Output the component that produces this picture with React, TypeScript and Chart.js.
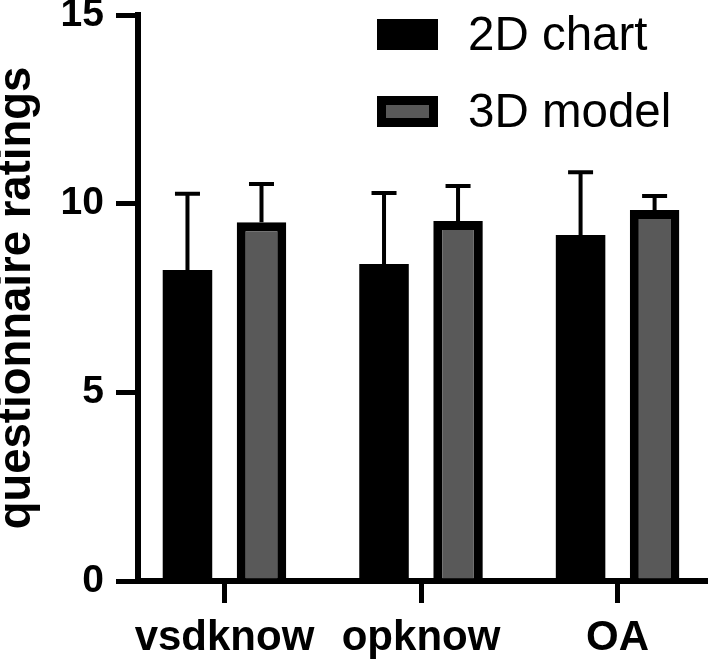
import React, { useEffect, useRef } from 'react';
import { Chart, registerables } from 'chart.js';

Chart.register(...registerables);

const categories = ['vsdknow', 'opknow', 'OA'];
const seriesLabels = ['2D chart', '3D model'];
const means2D = [8.24, 8.4, 9.17];
const sd2D = [2.02, 1.88, 1.66];
const means3D = [9.51, 9.54, 9.83];
const sd3D = [1.01, 0.93, 0.37];
const yTicks = [0, 5, 10, 15];

const FONT = '"Liberation Sans", Arial, Helvetica, sans-serif';

const errorBarPlugin = {
  id: 'errorBars',
  afterDatasetsDraw(chart: any) {
    const { ctx } = chart;
    const yScale = chart.scales.y;
    chart.data.datasets.forEach((ds: any, di: number) => {
      const meta = chart.getDatasetMeta(di);
      meta.data.forEach((bar: any, i: number) => {
        const v = ds.data[i].y;
        const top = yScale.getPixelForValue(v + ds.errors[i]);
        const x = bar.x;
        ctx.save();
        ctx.strokeStyle = '#000';
        ctx.lineWidth = 4;
        ctx.lineCap = 'butt';
        ctx.beginPath();
        ctx.moveTo(x, bar.y);
        ctx.lineTo(x, top);
        ctx.moveTo(x - 12.5, top);
        ctx.lineTo(x + 12.5, top);
        ctx.stroke();
        ctx.restore();
      });
    });
  },
};

const boxLegendPlugin = {
  id: 'boxLegend',
  afterDraw(chart: any) {
    const { ctx } = chart;
    const x = 377;
    const y0 = 59;
    const rowGap = 77;
    const bw = 61;
    const bh = 31;
    chart.data.datasets.forEach((ds: any, i: number) => {
      const y = y0 + i * rowGap;
      ctx.save();
      ctx.fillStyle = ds.borderColor;
      ctx.fillRect(x, y, bw, bh);
      const b = ds.borderWidth || 0;
      if (b > 0) {
        ctx.fillStyle = ds.backgroundColor;
        ctx.fillRect(x + b, y + b, bw - 2 * b, bh - 2 * b);
      }
      ctx.fillStyle = '#000';
      ctx.font = `47.5px ${FONT}`;
      ctx.textAlign = 'left';
      ctx.textBaseline = 'alphabetic';
      ctx.fillText(ds.label, 468, y + 31);
      ctx.restore();
    });
  },
};

export default function App() {
  const canvasRef = useRef<HTMLCanvasElement | null>(null);

  useEffect(() => {
    if (!canvasRef.current) return;
    const chart = new Chart(canvasRef.current, {
      type: 'bar',
      data: {
        datasets: [
          {
            label: seriesLabels[0],
            data: means2D.map((v, i) => ({ x: i, y: v })),
            errors: sd2D,
            backgroundColor: '#000000',
            borderColor: '#000000',
            borderWidth: 0,
            categoryPercentage: 0.7532,
            barPercentage: 0.669,
          } as any,
          {
            label: seriesLabels[1],
            data: means3D.map((v, i) => ({ x: i, y: v })),
            errors: sd3D,
            backgroundColor: '#595959',
            borderColor: '#000000',
            borderWidth: 9,
            borderSkipped: 'start',
            categoryPercentage: 0.7532,
            barPercentage: 0.669,
          } as any,
        ],
      },
      options: {
        animation: false,
        responsive: false,
        maintainAspectRatio: false,
        layout: { padding: { top: 55, left: 0, right: 0, bottom: 0 } },
        plugins: {
          legend: { display: false },
          tooltip: { enabled: false },
        },
        scales: {
          x: {
            type: 'linear',
            min: -0.44,
            max: 2.46,
            offset: false,
            z: 1,
            afterBuildTicks: (s: any) => {
              s.ticks = categories.map((_, i) => ({ value: i }));
            },
            afterFit: (s: any) => {
              s.height = 79;
            },
            ticks: {
              callback: (v: any) => categories[v as number] ?? '',
              font: { family: FONT, size: 42, weight: 'bold' },
              color: '#000',
              padding: 10,
              autoSkip: false,
              maxRotation: 0,
              minRotation: 0,
            },
            grid: {
              display: true,
              offset: false,
              drawOnChartArea: false,
              drawTicks: true,
              tickLength: 22,
              tickWidth: 5,
              tickColor: '#000',
              color: '#000',
              lineWidth: 5,
            },
            border: { display: true, color: '#000', width: 6 },
          },
          y: {
            min: 0,
            max: 15,
            z: 1,
            afterBuildTicks: (s: any) => {
              s.ticks = yTicks.map((v) => ({ value: v }));
            },
            afterFit: (s: any) => {
              s.width = 138;
            },
            ticks: {
              font: { family: FONT, size: 39, weight: 'bold' },
              color: '#000',
              padding: 12,
            },
            grid: {
              display: true,
              offset: false,
              drawOnChartArea: false,
              drawTicks: true,
              tickLength: 22,
              tickWidth: 5,
              tickColor: '#000',
              color: '#000',
              lineWidth: 5,
            },
            border: { display: true, color: '#000', width: 6 },
            title: {
              display: true,
              text: 'questionnaire ratings',
              font: { family: FONT, size: 45.5, weight: 'bold' },
              color: '#000',
              padding: { top: -10, bottom: 0 },
            },
          },
        },
      } as any,
      plugins: [errorBarPlugin, boxLegendPlugin],
    });
    return () => chart.destroy();
  }, []);

  return (
    <div style={{ position: 'absolute', left: 0, top: -40, width: 708, height: 700 }}>
      <canvas ref={canvasRef} width={708} height={700} style={{ display: 'block', width: 708, height: 700 }} />
    </div>
  );
}
